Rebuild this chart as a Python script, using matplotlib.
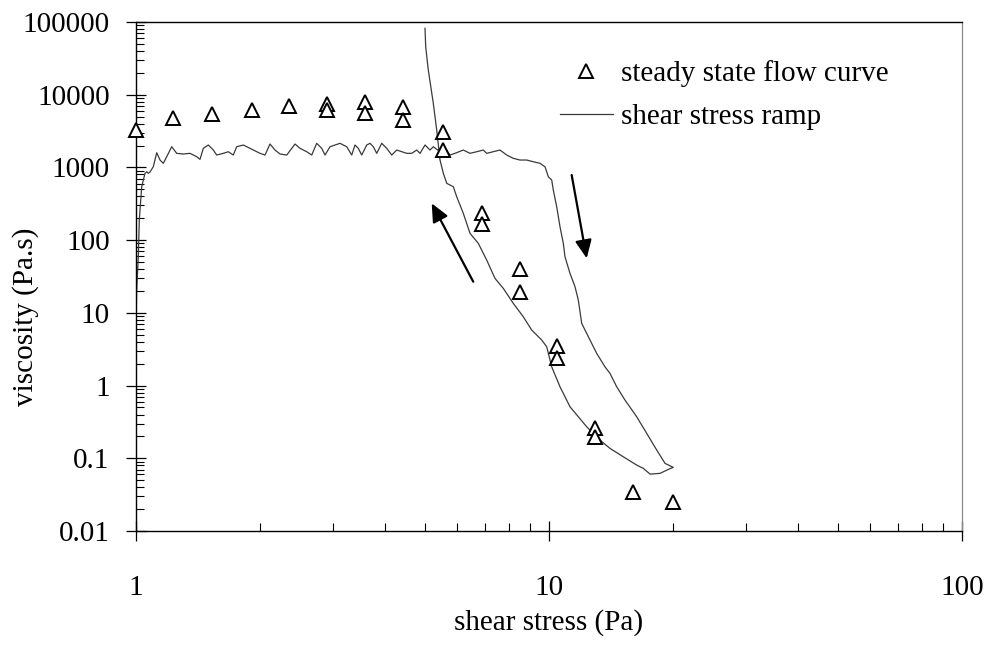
import matplotlib
matplotlib.use("Agg")
import matplotlib.pyplot as plt
from matplotlib.ticker import LogLocator, FixedLocator, FixedFormatter, NullFormatter

# ---------------- data ----------------
flow_stress = [1.00, 1.231, 1.525, 1.906, 2.350, 2.906, 2.906, 3.592, 3.592,
               4.439, 4.439, 5.546, 5.546, 6.871, 6.871, 8.507, 8.507,
               10.47, 10.47, 12.92, 12.92, 15.97, 19.96]
flow_visc = [3270, 4735, 5426, 6161, 6990, 7379, 6161, 8012, 5655,
             6708, 4487, 3039, 1735, 234, 166.5, 39.7, 19.5,
             3.53, 2.37, 0.258, 0.1976, 0.0343, 0.0250]

ramp_stress = [1.000, 1.0039, 1.0129, 1.0186, 1.0323, 1.0515, 1.0615, 1.0710, 1.0811,
               1.1012, 1.1224, 1.1433, 1.1644, 1.1867, 1.2203, 1.2548, 1.3019, 1.3514,
               1.4028, 1.4289, 1.4554, 1.4966, 1.5389, 1.5684, 1.6271, 1.6730, 1.7202,
               1.7531, 1.8197, 1.8880, 1.9964, 2.0529, 2.1109, 2.1706, 2.2326, 2.3175,
               2.4267, 2.4953, 2.5903, 2.6635, 2.7387, 2.8161, 2.8684, 2.9494, 3.1189,
               3.2375, 3.3290, 3.3908, 3.4537, 3.5199, 3.6194, 3.6867, 3.7552, 3.8271,
               3.9353, 4.0465, 4.1609, 4.2785, 4.3995, 4.5237, 4.6516, 4.7831, 4.8720,
               5.0092, 5.1508, 5.2464, 5.4463, 5.6001, 5.7585, 5.9213, 6.2016, 6.4375,
               6.6824, 6.9327, 7.0655, 7.3302, 7.6094, 7.8991, 8.1954, 8.5071, 8.8308,
               9.1614, 9.5106, 9.7794, 9.9610, 10.152, 10.243, 10.439, 10.632, 10.830,
               10.933, 11.242, 11.560, 11.775, 12.000, 12.223, 12.568, 13.046, 13.664,
               14.050, 14.585, 15.276, 16.308, 17.246, 18.234, 19.097, 19.999, 19.452,
               18.571, 17.565, 16.918, 16.308, 15.132, 14.050, 13.288, 12.338, 11.242,
               10.632, 10.152, 9.8726, 9.6011, 9.0818, 8.6648, 8.1954, 7.7507, 7.4001,
               7.0655, 6.7421, 6.4375, 6.2016, 5.9778, 5.8656, 5.6546, 5.5484, 5.4463,
               5.3469, 5.2464, 5.1020, 5.0285, 5.0092]
ramp_visc = [7.0, 20.6, 59.1, 189, 543, 830, 873, 830, 865,
             1022, 1593, 1264, 1139, 1404, 1926, 1563, 1529, 1563,
             1404, 1292, 1831, 2033, 1735, 1481, 1563, 1644, 1481,
             1926, 2033, 1831, 1563, 1481, 2099, 1735, 1529, 1481,
             2099, 1831, 1644, 1481, 2146, 1831, 1481, 1926, 2146,
             1926, 1481, 2033, 1831, 1481, 2033, 2146, 1926, 1563,
             2146, 1831, 1481, 1735, 1644, 1563, 1563, 1735, 1563,
             2033, 1735, 1926, 1644, 1831, 1481, 1563, 1735, 1563,
             1644, 1735, 1563, 1644, 1735, 1481, 1334, 1264, 1264,
             1198, 1139, 1022, 745, 671, 489, 288, 153, 90.4,
             59.1, 34.9, 22.9, 15.0, 7.17, 5.80, 4.23, 2.77, 1.81,
             1.47, 0.963, 0.632, 0.372, 0.220, 0.1297, 0.0851, 0.0750, 0.0704,
             0.0620, 0.0606, 0.0726, 0.0806, 0.1049, 0.1368, 0.178, 0.2713, 0.511,
             0.963, 1.81, 3.42, 4.23, 5.80, 8.84, 13.5, 21.7, 29.8,
             53.2, 90.4, 124, 234, 395, 543, 604, 830, 1264,
             3268, 7615, 21870, 45740, 81900]

# arrows (tail -> head), data coordinates
arrow_up_tail = (6.556, 26.8)
arrow_up_head = (5.200, 320.8)
arrow_down_tail = (11.348, 786)
arrow_down_head = (12.34, 56.2)

x_ticks = [1, 10, 100]
x_tick_labels = ["1", "10", "100"]
y_ticks = [0.01, 0.1, 1, 10, 100, 1000, 10000, 100000]
y_tick_labels = ["0.01", "0.1", "1", "10", "100", "1000", "10000", "100000"]

series_labels = ["steady state flow curve", "shear stress ramp"]

# ---------------- figure ----------------
plt.rcParams['font.family'] = ['Liberation Serif', 'DejaVu Serif']
FS = 21

fig = plt.figure(figsize=(9.88, 6.49), dpi=100)
ax = fig.add_axes([136/988, 1 - 531/649, (962-136)/988, (531-22)/649])

ax.set_xscale('log')
ax.set_yscale('log')
ax.set_xlim(1, 100)
ax.set_ylim(0.01, 100000)

ax.plot(ramp_stress, ramp_visc, color='#3a3a3a', lw=0.9, label=series_labels[1], zorder=2)
ax.plot(flow_stress, flow_visc, linestyle='none', marker='^', markersize=9.5,
        markerfacecolor='white', markeredgecolor='black', markeredgewidth=1.4,
        label=series_labels[0], clip_on=False, zorder=3)

for tail, head in [(arrow_up_tail, arrow_up_head), (arrow_down_tail, arrow_down_head)]:
    ax.annotate('', xy=head, xytext=tail,
                arrowprops=dict(arrowstyle='-|>,head_length=0.55,head_width=0.25',
                                color='black', lw=1.6, mutation_scale=20,
                                shrinkA=0, shrinkB=0))

ax.xaxis.set_major_locator(FixedLocator(x_ticks))
ax.xaxis.set_major_formatter(FixedFormatter(x_tick_labels))
ax.yaxis.set_major_locator(FixedLocator(y_ticks))
ax.yaxis.set_major_formatter(FixedFormatter(y_tick_labels))
ax.xaxis.set_minor_locator(LogLocator(base=10, subs=range(2, 10), numticks=20))
ax.yaxis.set_minor_locator(LogLocator(base=10, subs=range(2, 10), numticks=20))
ax.xaxis.set_minor_formatter(NullFormatter())
ax.yaxis.set_minor_formatter(NullFormatter())

ax.tick_params(axis='x', which='major', direction='inout', length=14, width=0.9,
               labelsize=FS, pad=25)
ax.tick_params(axis='y', which='major', direction='inout', length=14, width=0.9,
               labelsize=FS, pad=12)
ax.tick_params(which='minor', direction='in', length=6, width=0.8)

for s in ['left', 'bottom', 'top']:
    ax.spines[s].set_color('black')
    ax.spines[s].set_linewidth(1.0)
ax.spines['right'].set_color('#888888')
ax.spines['right'].set_linewidth(0.9)

ax.set_xlabel('shear stress (Pa)', fontsize=FS)
ax.set_ylabel('viscosity (Pa.s)', fontsize=FS)
ax.xaxis.set_label_coords(0.5, -0.18)
ax.xaxis.label.set_va('center')
ax.yaxis.set_label_coords((26-136)/826, (531-317)/509)
ax.yaxis.label.set_va('center')

handles, labels = ax.get_legend_handles_labels()
order = [1, 0]
leg = ax.legend([handles[i] for i in order], [labels[i] for i in order],
                loc='upper left', bbox_to_anchor=(560/988, 1 - 60/649),
                bbox_transform=fig.transFigure, frameon=False, fontsize=FS,
                handlelength=1.8, handletextpad=0.3, labelspacing=0.58,
                borderpad=0, borderaxespad=0)

fig.savefig('out.png', dpi=100, facecolor='white')
